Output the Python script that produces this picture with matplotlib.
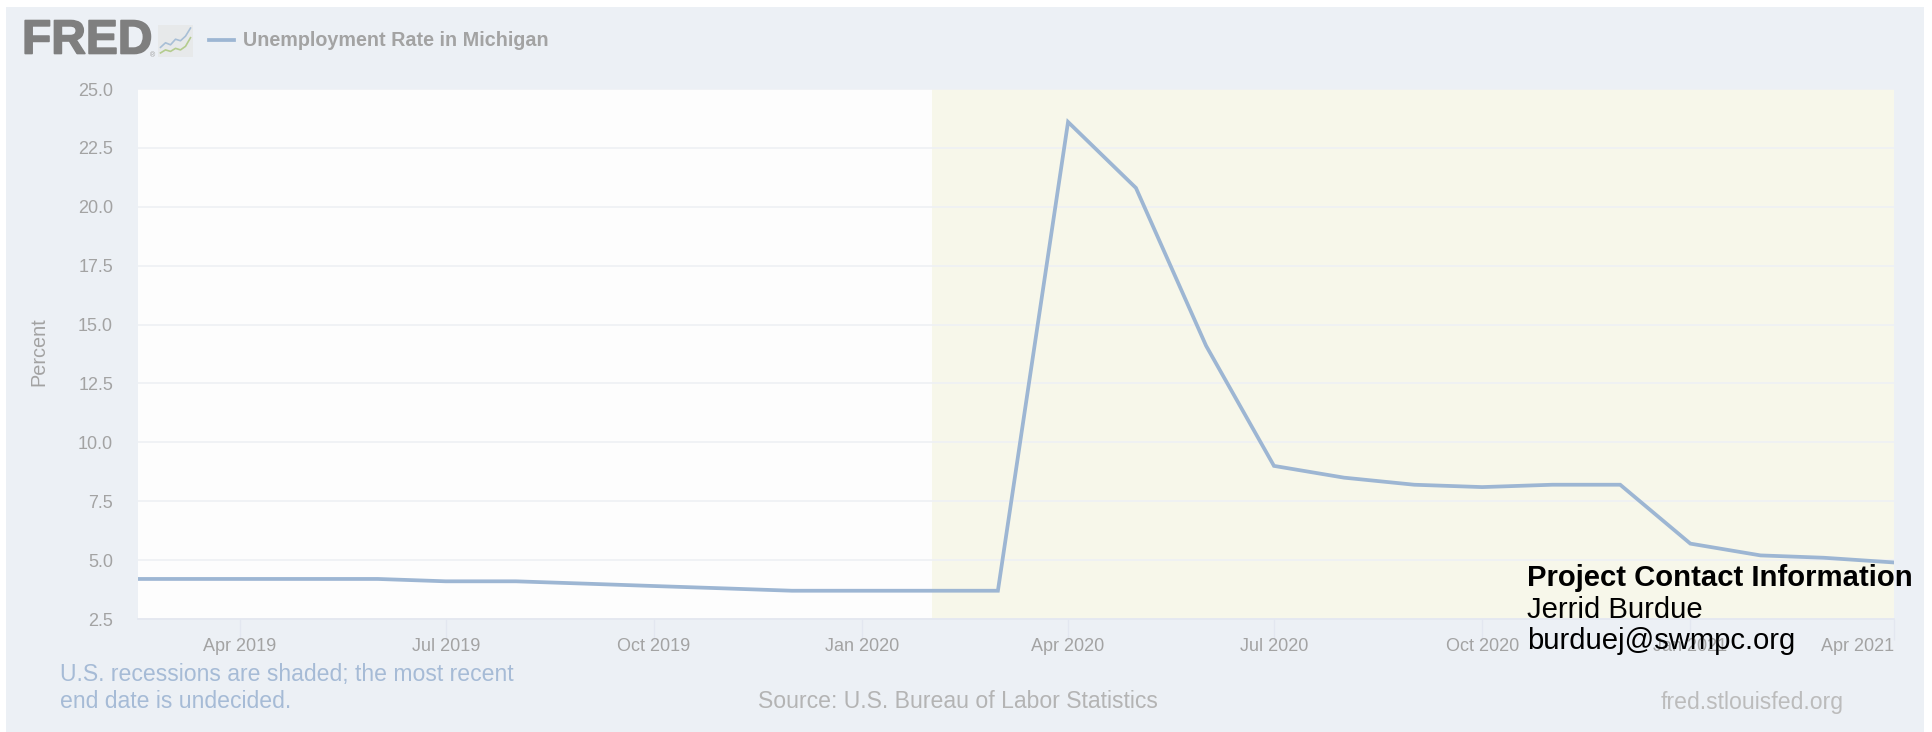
import matplotlib
matplotlib.use('Agg')
import matplotlib.pyplot as plt
import matplotlib.patheffects as pe
import pandas as pd

plt.rcParams['font.family'] = ['Liberation Sans', 'DejaVu Sans']

# monthly unemployment rate
months = pd.date_range('2019-02-01', '2021-04-01', freq='MS')
rate = [4.2, 4.2, 4.2, 4.2, 4.2, 4.1, 4.1, 4.0, 3.9, 3.8, 3.7, 3.7, 3.7, 3.7,
        23.6, 20.8, 14.1, 9.0, 8.5, 8.2, 8.1, 8.2, 8.2, 5.7, 5.2, 5.1, 4.9]

y_ticks = [2.5, 5.0, 7.5, 10.0, 12.5, 15.0, 17.5, 20.0, 22.5, 25.0]
x_ticks = pd.to_datetime(['2019-04-01', '2019-07-01', '2019-10-01', '2020-01-01',
                          '2020-04-01', '2020-07-01', '2020-10-01', '2021-01-01', '2021-04-01'])
x_start = pd.Timestamp('2019-02-15')
x_end = pd.Timestamp('2021-04-01')
recession_start = pd.Timestamp('2020-02-01')

# little chart icon next to the logo
icon_x = [0, 1, 2, 3, 4, 5, 6]
icon_blue = [1.4, 2.3, 1.9, 3.0, 2.7, 3.6, 5.2]
icon_green = [0.3, 0.9, 0.6, 1.2, 0.9, 1.6, 3.3]

W, H = 1933, 732
BG = '#ecf0f5'
GRID = '#eef0f4'
TICK = '#e3e7f0'
LINE = '#9db6d3'
TXT = '#a3a3a3'


def box(x0, y0, x1, y1):
    # pixel box (top-left origin) to figure fractions
    return [x0 / W, 1 - y1 / H, (x1 - x0) / W, (y1 - y0) / H]


fig = plt.figure(figsize=(W / 100, H / 100), dpi=100, facecolor='white')

panel = fig.add_axes(box(6, 7, 1924, 733))
panel.set_facecolor(BG)
panel.set_xticks([])
panel.set_yticks([])
for s in panel.spines.values():
    s.set_visible(False)

ax = fig.add_axes(box(138, 89, 1894, 619))
ax.set_facecolor('#fdfdfd')
ax.axvspan(recession_start, x_end, color='#f7f7ea', lw=0, zorder=0)
ax.plot(months, rate, color=LINE, lw=2.7, solid_joinstyle='miter', zorder=3)

ax.set_xlim(x_start, x_end)
ax.set_ylim(2.5, 25)
ax.set_yticks(y_ticks)
ax.set_yticklabels(['%.1f' % v for v in y_ticks])
ax.set_xticks(x_ticks)
ax.set_xticklabels([d.strftime('%b %Y') for d in x_ticks])
ax.get_xticklabels()[-1].set_ha('right')
ax.grid(True, axis='y', color=GRID, lw=1.2, zorder=1)
ax.tick_params(axis='y', length=0, labelsize=13, labelcolor=TXT, pad=18)
ax.tick_params(axis='x', length=15, width=1, color=TICK, labelsize=13, labelcolor=TXT, pad=-1)
for side in ['top', 'left', 'right']:
    ax.spines[side].set_visible(False)
ax.spines['bottom'].set_color(TICK)
ax.spines['bottom'].set_linewidth(1.2)


def put(px, py, s, **kw):
    fig.text(px / W, 1 - py / H, s, **kw)


put(39, 352, 'Percent', rotation=90, ha='center', va='center', fontsize=14.3, color=TXT)

# header
put(22, 41, 'FRED', fontsize=34.5, fontweight='bold', color='#7f7f7f', va='center', ha='left',
    path_effects=[pe.withStroke(linewidth=1.2, foreground='#7f7f7f')])
put(150, 56, '®', fontsize=5, color='#9a9a9a', va='center', ha='left')
put(243, 40, 'Unemployment Rate in Michigan', fontsize=14.2, fontweight='bold', color=TXT,
    va='center', ha='left')
fig.add_artist(plt.Line2D([209 / W, 234 / W], [1 - 39.5 / H] * 2, color=LINE, lw=2.7))

icon = fig.add_axes(box(158, 25, 193, 57))
icon.set_facecolor('#e7e9ea')
icon.plot(icon_x, icon_blue, color='#a8bfd6', lw=1.2)
icon.plot(icon_x, icon_green, color='#b4cc8e', lw=1.2)
icon.set_xlim(-0.5, 6.5)
icon.set_ylim(-0.5, 5.8)
icon.set_xticks([])
icon.set_yticks([])
for s in icon.spines.values():
    s.set_visible(False)

# footer
put(60, 674, 'U.S. recessions are shaded; the most recent', fontsize=16.6, color='#a6bbd6', va='center')
put(60, 702, 'end date is undecided.', fontsize=16.6, color='#a6bbd6', va='center')
put(958, 702, 'Source: U.S. Bureau of Labor Statistics', fontsize=16.6, color='#b4b4b4', va='center', ha='center')
put(1752, 702, 'fred.stlouisfed.org', fontsize=16.6, color='#bcbcbc', va='center', ha='center')

# contact block pasted over the chart
put(1527, 578, 'Project Contact Information', fontsize=21.1, fontweight='bold', color='black', va='center', zorder=10)
put(1527, 610, 'Jerrid Burdue', fontsize=21.1, color='black', va='center', zorder=10)
put(1527, 641, 'burduej@swmpc.org', fontsize=21.1, color='black', va='center', zorder=10)

fig.savefig('out.png', dpi=100, facecolor='white')
